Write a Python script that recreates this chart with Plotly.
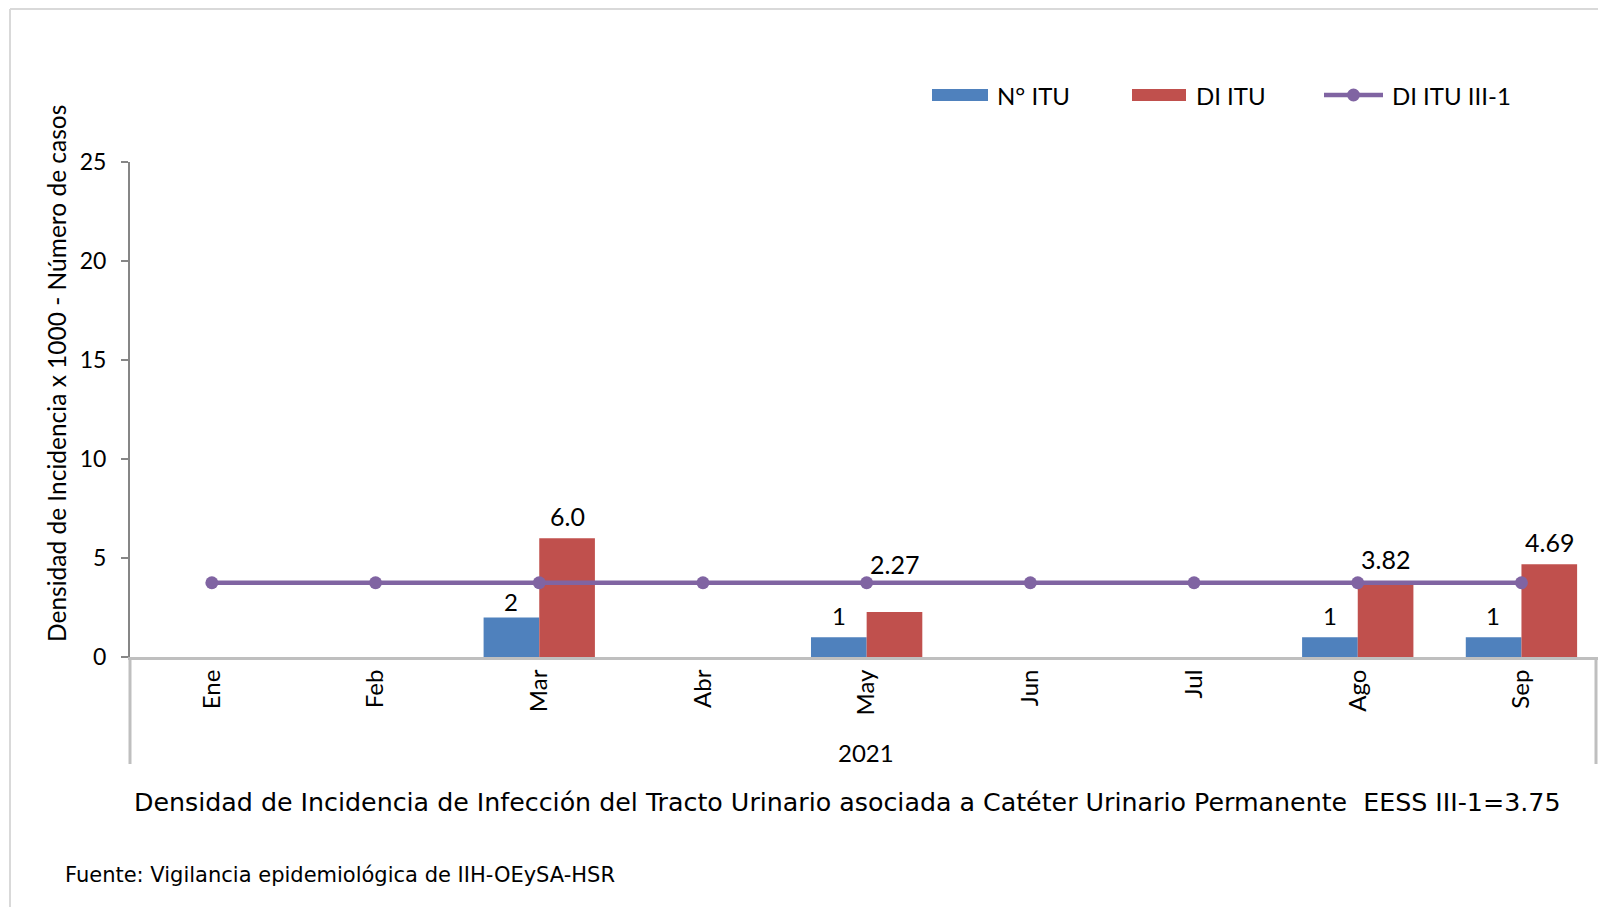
"""Densidad de incidencia de ITU asociada a CUP - EESS III-1."""

import plotly.graph_objects as go

# ===== Data =====
meses = ["Ene", "Feb", "Mar", "Abr", "May", "Jun", "Jul", "Ago", "Sep"]
n_itu = [0, 0, 2, 0, 1, 0, 0, 1, 1]
di_itu = [0, 0, 6.0, 0, 2.27, 0, 0, 3.82, 4.69]
di_itu_iii1 = [3.75, 3.75, 3.75, 3.75, 3.75, 3.75, 3.75, 3.75, 3.75]
n_itu_labels = ["", "", "2", "", "1", "", "", "1", "1"]
di_itu_labels = ["", "", "6.0", "", "2.27", "", "", "3.82", "4.69"]

# ===== Style =====
BLUE = "#4F81BD"
RED = "#C0504D"
PURPLE = "#8064A2"
FONT = "Lato"
WIDE_FONT = "DejaVu Sans"

# the page body has an 8px margin, so the figure starts at (8, 8) on screen;
# keep it inside the window so no scrollbars appear
OFF = 8
W, H = 1606 - 2 * OFF, 915 - 2 * OFF
ML, MR, MT, MB = 130 - OFF, 0, 162 - OFF, 258 - OFF
PW = W - ML - MR
PH = H - MT - MB
CAT_PX = 163.7  # pixels per category, as in the original
X_RANGE = [-0.5, -0.5 + PW / CAT_PX]


def px_x(x):
    """Screen pixel x -> paper x."""
    return (x - OFF - ML) / PW


def px_y(y):
    """Screen pixel y -> paper y."""
    return (H - MB - (y - OFF)) / PH


fig = go.Figure()

fig.add_trace(go.Bar(
    x=meses, y=n_itu, name="N° ITU",
    marker={"color": BLUE, "line": {"width": 0}},
))
fig.add_trace(go.Bar(
    x=meses, y=di_itu, name="DI ITU",
    marker={"color": RED, "line": {"width": 0}},
))
fig.add_trace(go.Scatter(
    x=meses, y=di_itu_iii1, name="DI ITU III-1",
    mode="lines+markers",
    line={"color": PURPLE, "width": 4.5},
    marker={"color": PURPLE, "size": 13},
))

# data labels
annotations = []
for mes, val, lab in zip(meses, n_itu, n_itu_labels):
    if lab:
        annotations.append(dict(
            x=mes, y=val, xref="x", yref="y", text=lab, showarrow=False,
            xshift=-28, yshift=16 if val > 1 else 22,
            font={"size": 24, "color": "#000000", "family": FONT},
        ))
for mes, val, lab in zip(meses, di_itu, di_itu_labels):
    if lab:
        annotations.append(dict(
            x=mes, y=val, xref="x", yref="y", text=lab, showarrow=False,
            xshift=28, yshift=48 if lab == "2.27" else 22,
            font={"size": 25, "color": "#000000", "family": FONT},
        ))

annotations += [
    dict(
        x=px_x(56), y=px_y(374), xref="paper", yref="paper",
        xanchor="center", yanchor="middle",
        text="Densidad de Incidencia x 1000 - Número de casos",
        textangle=-90, showarrow=False,
        font={"size": 24.5, "color": "#000000", "family": FONT},
    ),
    dict(
        x=px_x(866), y=px_y(752), xref="paper", yref="paper",
        xanchor="center", yanchor="middle",
        text="2021", showarrow=False,
        font={"size": 24, "color": "#000000", "family": FONT},
    ),
    dict(
        x=px_x(847), y=px_y(802), xref="paper", yref="paper",
        xanchor="center", yanchor="middle",
        text="Densidad de Incidencia de Infección del Tracto Urinario asociada a "
             "Catéter Urinario Permanente  EESS III-1=3.75",
        showarrow=False,
        font={"size": 25.3, "color": "#000000", "family": WIDE_FONT},
    ),
    dict(
        x=px_x(63), y=px_y(875), xref="paper", yref="paper",
        xanchor="left", yanchor="middle",
        text="Fuente: Vigilancia epidemiológica de IIH-OEySA-HSR",
        showarrow=False,
        font={"size": 21, "color": "#000000", "family": WIDE_FONT},
    ),
]

# legend, drawn like the Excel one (wide bar swatches)
legend_items = [
    ("N° ITU", BLUE, "bar", 932, 988, 995),
    ("DI ITU", RED, "bar", 1132, 1186, 1194),
    ("DI ITU III-1", PURPLE, "line", 1324, 1383, 1390),
]
LEG_Y = 95
shapes = []
for name, color, kind, x0, x1, tx in legend_items:
    if kind == "bar":
        shapes.append(dict(
            type="rect", xref="paper", yref="paper",
            x0=px_x(x0), x1=px_x(x1), y0=px_y(LEG_Y + 6), y1=px_y(LEG_Y - 6),
            fillcolor=color, line={"width": 0},
        ))
    else:
        shapes.append(dict(
            type="line", xref="paper", yref="paper",
            x0=px_x(x0), x1=px_x(x1), y0=px_y(LEG_Y), y1=px_y(LEG_Y),
            line={"color": color, "width": 4.5},
        ))
        xc = (x0 + x1) / 2
        shapes.append(dict(
            type="circle", xref="paper", yref="paper",
            x0=px_x(xc - 6.5), x1=px_x(xc + 6.5),
            y0=px_y(LEG_Y + 6.5), y1=px_y(LEG_Y - 6.5),
            fillcolor=color, line={"width": 0},
        ))
    annotations.append(dict(
        x=px_x(tx), y=px_y(LEG_Y), xref="paper", yref="paper",
        xanchor="left", yanchor="middle", text=name, showarrow=False,
        font={"size": 24, "color": "#000000", "family": FONT},
    ))

shapes += [
    # category box
    dict(type="line", xref="paper", yref="paper", x0=px_x(130), x1=px_x(130),
         y0=0, y1=px_y(764), line={"color": "#BFBFBF", "width": 3}),
    dict(type="line", xref="paper", yref="paper", x0=px_x(1596), x1=px_x(1596),
         y0=0, y1=px_y(764), line={"color": "#BFBFBF", "width": 3}),
    # chart frame
    dict(type="line", xref="paper", yref="paper", x0=px_x(10), x1=px_x(10),
         y0=px_y(9), y1=px_y(920), line={"color": "#D9D9D9", "width": 2}),
    dict(type="line", xref="paper", yref="paper", x0=px_x(10), x1=px_x(1620),
         y0=px_y(9), y1=px_y(9), line={"color": "#D9D9D9", "width": 2}),
]

fig.update_layout(
    width=W, height=H,
    margin={"l": ML, "r": MR, "t": MT, "b": MB, "autoexpand": False},
    paper_bgcolor="white", plot_bgcolor="white",
    barmode="group", bargap=0.32, bargroupgap=0,
    font={"family": FONT, "color": "#000000"},
    showlegend=False,
    annotations=annotations,
    shapes=shapes,
)

fig.update_xaxes(
    range=X_RANGE,
    showline=True, linecolor="#BFBFBF", linewidth=3,
    ticks="", tickangle=-90,
    tickfont={"size": 24, "family": FONT, "color": "#000000"},
    showgrid=False, zeroline=False,
)
fig.update_yaxes(
    range=[0, 25], dtick=5,
    showline=True, linecolor="#868686", linewidth=2,
    ticks="outside", ticklen=7, tickcolor="#868686", tickwidth=2,
    tickfont={"size": 23, "family": FONT, "color": "#000000"},
    ticklabelstandoff=10,
    showgrid=False, zeroline=False,
)

fig.write_html("out.html")
